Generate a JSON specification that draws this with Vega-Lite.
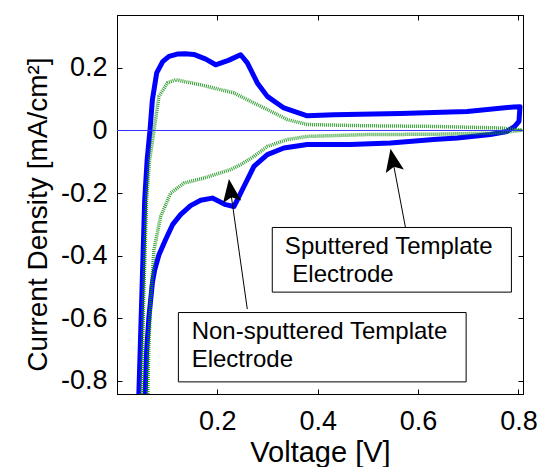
{
  "$schema": "https://vega.github.io/schema/vega-lite/v6.json",
  "width": 406,
  "height": 379,
  "autosize": {"type": "none"},
  "padding": {"left": 117, "top": 15, "right": 17, "bottom": 73},
  "background": "white",
  "config": {
    "view": {"stroke": "#000000", "strokeWidth": 1},
    "axis": {
      "grid": false,
      "labelFont": "Liberation Sans",
      "titleFont": "Liberation Sans",
      "labelColor": "#000000",
      "titleColor": "#000000",
      "tickColor": "#000000",
      "domainColor": "#000000",
      "labelFontSize": 27,
      "tickSize": -5,
      "titleFontWeight": "normal",
      "labelFlush": false
    }
  },
  "datasets": {
    "blue": [
      {"i": 1, "v": 0.0432, "j": -0.861},
      {"i": 2, "v": 0.0472, "j": -0.647},
      {"i": 3, "v": 0.0512, "j": -0.435},
      {"i": 4, "v": 0.0552, "j": -0.221},
      {"i": 5, "v": 0.0601, "j": -0.093},
      {"i": 6, "v": 0.0657, "j": 0.0},
      {"i": 7, "v": 0.0705, "j": 0.098},
      {"i": 8, "v": 0.0791, "j": 0.184},
      {"i": 9, "v": 0.091, "j": 0.22},
      {"i": 10, "v": 0.1035, "j": 0.237},
      {"i": 11, "v": 0.12, "j": 0.244},
      {"i": 12, "v": 0.136, "j": 0.245},
      {"i": 13, "v": 0.153, "j": 0.243},
      {"i": 14, "v": 0.177, "j": 0.228},
      {"i": 15, "v": 0.1965, "j": 0.21},
      {"i": 16, "v": 0.222, "j": 0.224},
      {"i": 17, "v": 0.2463, "j": 0.242},
      {"i": 18, "v": 0.2597, "j": 0.216},
      {"i": 19, "v": 0.2796, "j": 0.152},
      {"i": 20, "v": 0.2995, "j": 0.109},
      {"i": 21, "v": 0.3325, "j": 0.072},
      {"i": 22, "v": 0.3791, "j": 0.047},
      {"i": 23, "v": 0.4321, "j": 0.05},
      {"i": 24, "v": 0.5649, "j": 0.054},
      {"i": 25, "v": 0.6977, "j": 0.061},
      {"i": 26, "v": 0.7905, "j": 0.075},
      {"i": 27, "v": 0.803, "j": 0.076},
      {"i": 28, "v": 0.801, "j": 0.029},
      {"i": 29, "v": 0.792, "j": 0.012},
      {"i": 30, "v": 0.777, "j": -0.003},
      {"i": 31, "v": 0.744, "j": -0.013},
      {"i": 32, "v": 0.678, "j": -0.024},
      {"i": 33, "v": 0.631, "j": -0.029},
      {"i": 34, "v": 0.545, "j": -0.04},
      {"i": 35, "v": 0.4645, "j": -0.045},
      {"i": 36, "v": 0.379, "j": -0.045},
      {"i": 37, "v": 0.3325, "j": -0.056},
      {"i": 38, "v": 0.2995, "j": -0.077},
      {"i": 39, "v": 0.2728, "j": -0.115},
      {"i": 40, "v": 0.2529, "j": -0.179},
      {"i": 41, "v": 0.24, "j": -0.221},
      {"i": 42, "v": 0.233, "j": -0.243},
      {"i": 43, "v": 0.2165, "j": -0.237},
      {"i": 44, "v": 0.19, "j": -0.216},
      {"i": 45, "v": 0.1667, "j": -0.223},
      {"i": 46, "v": 0.1466, "j": -0.24},
      {"i": 47, "v": 0.1267, "j": -0.269},
      {"i": 48, "v": 0.1107, "j": -0.301},
      {"i": 49, "v": 0.0967, "j": -0.349},
      {"i": 50, "v": 0.0836, "j": -0.397},
      {"i": 51, "v": 0.0751, "j": -0.445},
      {"i": 52, "v": 0.0705, "j": -0.487},
      {"i": 53, "v": 0.0637, "j": -0.594},
      {"i": 54, "v": 0.0591, "j": -0.701},
      {"i": 55, "v": 0.0562, "j": -0.838},
      {"i": 56, "v": 0.0552, "j": -0.893}
    ],
    "green": [
      {"i": 1, "v": 0.049, "j": -0.861},
      {"i": 2, "v": 0.053, "j": -0.541},
      {"i": 3, "v": 0.059, "j": -0.221},
      {"i": 4, "v": 0.065, "j": -0.094},
      {"i": 5, "v": 0.0737, "j": 0.0},
      {"i": 6, "v": 0.0836, "j": 0.109},
      {"i": 7, "v": 0.1004, "j": 0.152},
      {"i": 8, "v": 0.1169, "j": 0.162},
      {"i": 9, "v": 0.1667, "j": 0.146},
      {"i": 10, "v": 0.233, "j": 0.12},
      {"i": 11, "v": 0.2662, "j": 0.093},
      {"i": 12, "v": 0.2995, "j": 0.067},
      {"i": 13, "v": 0.3393, "j": 0.035},
      {"i": 14, "v": 0.3791, "j": 0.019},
      {"i": 15, "v": 0.4986, "j": 0.015},
      {"i": 16, "v": 0.6312, "j": 0.013},
      {"i": 17, "v": 0.764, "j": 0.008},
      {"i": 18, "v": 0.8072, "j": 0.001},
      {"i": 19, "v": 0.764, "j": -0.008},
      {"i": 20, "v": 0.6312, "j": -0.012},
      {"i": 21, "v": 0.4986, "j": -0.013},
      {"i": 22, "v": 0.3791, "j": -0.019},
      {"i": 23, "v": 0.3393, "j": -0.029},
      {"i": 24, "v": 0.2995, "j": -0.051},
      {"i": 25, "v": 0.2728, "j": -0.083},
      {"i": 26, "v": 0.2463, "j": -0.109},
      {"i": 27, "v": 0.2264, "j": -0.125},
      {"i": 28, "v": 0.1732, "j": -0.152},
      {"i": 29, "v": 0.1334, "j": -0.168},
      {"i": 30, "v": 0.1069, "j": -0.2},
      {"i": 31, "v": 0.087, "j": -0.275},
      {"i": 32, "v": 0.0737, "j": -0.381},
      {"i": 33, "v": 0.0671, "j": -0.541},
      {"i": 34, "v": 0.0631, "j": -0.701},
      {"i": 35, "v": 0.0611, "j": -0.861}
    ],
    "boxes": [
      {"x1": 0.3094, "x2": 0.7859, "y1": -0.3099, "y2": -0.5165},
      {"x1": 0.1223, "x2": 0.6957, "y1": -0.5817, "y2": -0.8033}
    ],
    "labels": [
      {"x": 0.3345, "y": -0.394, "text": "Sputtered Template"},
      {"x": 0.3493, "y": -0.4826, "text": "Electrode"},
      {"x": 0.1487, "y": -0.6668, "text": "Non-sputtered Template"},
      {"x": 0.1487, "y": -0.7544, "text": "Electrode"}
    ],
    "arrows": [
      {"x1": 0.5749, "y1": -0.3108, "x2": 0.5493, "y2": -0.0943},
      {"x1": 0.2596, "y1": -0.5708, "x2": 0.2262, "y2": -0.1916}
    ],
    "head1": [{"x": 0.5493, "y": -0.0943}],
    "head2": [{"x": 0.2262, "y": -0.1916}]
  },
  "layer": [
    {
      "data": {"name": "blue"},
      "mark": {"type": "line", "color": "#0000ff", "strokeWidth": 5, "clip": true, "strokeJoin": "round"},
      "encoding": {
        "x": {
          "field": "v", "type": "quantitative",
          "scale": {"domain": [0, 0.809], "nice": false, "zero": false},
          "axis": {
            "title": "Voltage [V]", "values": [0.2, 0.4, 0.6, 0.8], "format": ".1f",
            "labelPadding": 40, "labelBaseline": "alphabetic",
            "titleFontSize": 29, "titleBaseline": "alphabetic", "titleY": 67, "titlePadding": 0
          }
        },
        "y": {
          "field": "j", "type": "quantitative",
          "scale": {"domain": [-0.842, 0.369], "nice": false, "zero": false},
          "axis": {
            "title": "Current Density [mA/cm²]",
            "values": [-0.8, -0.6, -0.4, -0.2, 0, 0.2],
            "labelExpr": "replace(format(datum.value, '.1~f'), '\u2212', '-')",
            "labelPadding": 15, "labelBaseline": "middle",
            "titleFontSize": 28, "titleBaseline": "alphabetic", "titleX": -71, "titleY": 199
          }
        },
        "order": {"field": "i", "type": "quantitative"}
      }
    },
    {
      "data": {"name": "green"},
      "mark": {"type": "line", "color": "#1c941c", "strokeWidth": 3.5, "strokeDash": [1, 1], "clip": true, "opacity": 0.9},
      "encoding": {
        "x": {"field": "v", "type": "quantitative", "axis": null},
        "y": {"field": "j", "type": "quantitative", "axis": null},
        "order": {"field": "i", "type": "quantitative"}
      }
    },
    {
      "data": {"values": [{}]},
      "mark": {"type": "rule", "color": "#3030ff", "strokeWidth": 1},
      "encoding": {"y": {"datum": 0, "type": "quantitative", "axis": null}}
    },
    {
      "data": {"name": "arrows"},
      "mark": {"type": "rule", "color": "#000000", "strokeWidth": 1},
      "encoding": {
        "x": {"field": "x1", "type": "quantitative", "axis": null},
        "y": {"field": "y1", "type": "quantitative", "axis": null},
        "x2": {"field": "x2"},
        "y2": {"field": "y2"}
      }
    },
    {
      "data": {"name": "boxes"},
      "mark": {"type": "rect", "fill": "#ffffff", "stroke": "#000000", "strokeWidth": 1},
      "encoding": {
        "x": {"field": "x1", "type": "quantitative", "axis": null},
        "x2": {"field": "x2"},
        "y": {"field": "y1", "type": "quantitative", "axis": null},
        "y2": {"field": "y2"}
      }
    },
    {
      "data": {"name": "labels"},
      "mark": {"type": "text", "align": "left", "baseline": "alphabetic", "font": "Liberation Sans", "fontSize": 24, "color": "#000000"},
      "encoding": {
        "x": {"field": "x", "type": "quantitative", "axis": null},
        "y": {"field": "y", "type": "quantitative", "axis": null},
        "text": {"field": "text"}
      }
    },
    {
      "data": {"name": "head1"},
      "mark": {"type": "point", "shape": "M0,-1L-0.8,1L0,0.6L0.8,1Z", "filled": true, "color": "#000000", "opacity": 1, "size": 529, "angle": -10.75, "strokeWidth": 0},
      "encoding": {
        "x": {"field": "x", "type": "quantitative", "axis": null},
        "y": {"field": "y", "type": "quantitative", "axis": null}
      }
    },
    {
      "data": {"name": "head2"},
      "mark": {"type": "point", "shape": "M0,-1L-0.8,1L0,0.6L0.8,1Z", "filled": true, "color": "#000000", "opacity": 1, "size": 529, "angle": -8.05, "strokeWidth": 0},
      "encoding": {
        "x": {"field": "x", "type": "quantitative", "axis": null},
        "y": {"field": "y", "type": "quantitative", "axis": null}
      }
    },
    {
      "data": {"name": "green"},
      "mark": {"type": "point", "opacity": 0},
      "encoding": {
        "x": {"field": "v", "type": "quantitative", "axis": {"orient": "top", "labels": false, "title": null, "values": [0.2, 0.4, 0.6, 0.8]}},
        "y": {"field": "j", "type": "quantitative", "axis": {"orient": "right", "labels": false, "title": null, "values": [-0.8, -0.6, -0.4, -0.2, 0, 0.2]}}
      }
    }
  ],
  "resolve": {"axis": {"x": "independent", "y": "independent"}}
}
